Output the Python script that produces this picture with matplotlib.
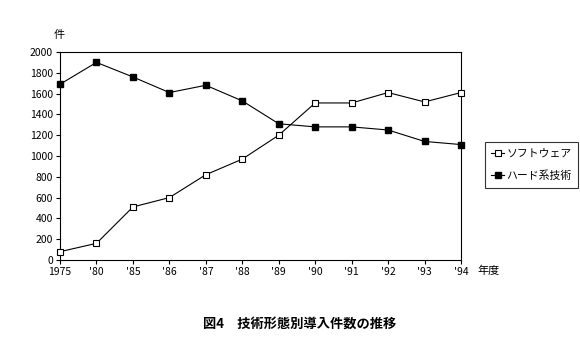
import matplotlib
matplotlib.use("Agg")
import matplotlib.pyplot as plt

plt.rcParams['font.family'] = ['Noto Sans CJK JP', 'DejaVu Sans']

# ---------- Data ----------
years = ["1975", "'80", "'85", "'86", "'87", "'88", "'89", "'90", "'91", "'92", "'93", "'94"]
software = [80, 160, 510, 600, 820, 970, 1200, 1510, 1510, 1610, 1520, 1610]
hardware = [1690, 1900, 1760, 1610, 1680, 1530, 1310, 1280, 1280, 1250, 1140, 1110]
yticks = list(range(0, 2001, 200))

# ---------- Plot ----------
fig = plt.figure(figsize=(5.8, 3.61), dpi=100)
ax = fig.add_axes([60 / 580, 1 - 260 / 361, 401 / 580, 208 / 361])

x = list(range(len(years)))
ax.plot(x, software, color="black", linewidth=0.8, marker="s", markersize=5,
        markerfacecolor="white", markeredgecolor="black", markeredgewidth=0.8,
        label="ソフトウェア", clip_on=False, zorder=3)
ax.plot(x, hardware, color="black", linewidth=0.8, marker="s", markersize=5,
        markerfacecolor="black", markeredgecolor="black",
        label="ハード系技術", clip_on=False, zorder=3)

ax.set_xlim(0, len(years) - 1)
ax.set_ylim(0, 2000)
ax.set_xticks(x)
ax.set_xticklabels(years)
ax.set_yticks(yticks)
ax.tick_params(direction="out", length=3, width=0.8, labelsize=7.5, pad=2)
for s in ax.spines.values():
    s.set_linewidth(0.8)

fig.text(54 / 580, 1 - 35 / 361, "件", fontsize=8, ha="left", va="center")
fig.text(477 / 580, 1 - 271 / 361, "年度", fontsize=8, ha="left", va="center")

leg = ax.legend(loc="center left", bbox_to_anchor=(485 / 580, 1 - 165 / 361),
                bbox_transform=fig.transFigure, frameon=True, fancybox=False,
                edgecolor="black", fontsize=7.8, handlelength=1.2, handletextpad=0.2,
                borderpad=0.6, borderaxespad=0, labelspacing=1.1)
leg.get_frame().set_linewidth(0.8)

fig.text(300 / 580, 1 - 324 / 361, "図4　技術形態別導入件数の推移", fontsize=9.5,
         fontweight="bold", ha="center", va="center")

fig.savefig("out.png", dpi=100)
